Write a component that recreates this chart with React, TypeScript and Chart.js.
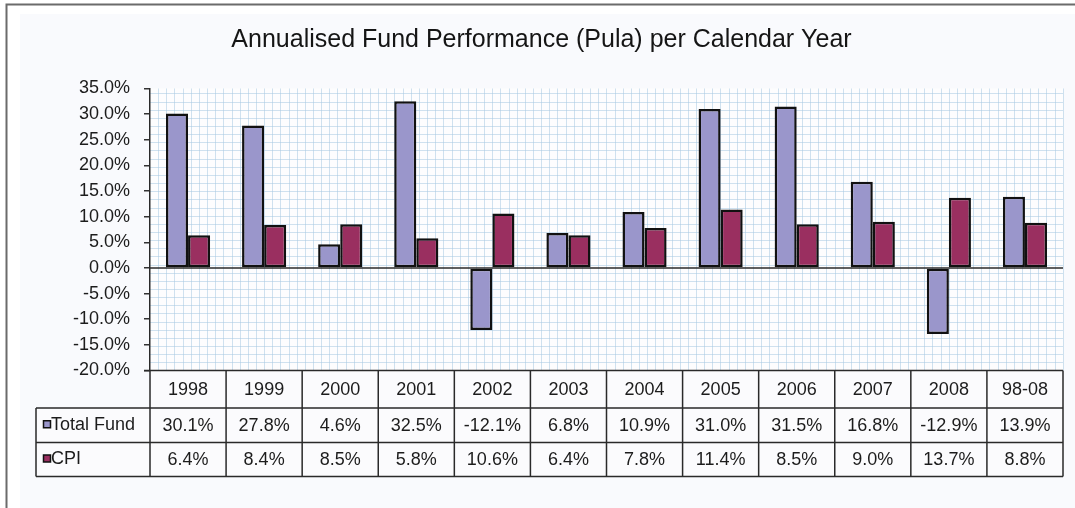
import React, { useEffect, useRef } from "react";
import { Chart, registerables } from "chart.js";

Chart.register(...registerables);

const TITLE = "Annualised Fund Performance (Pula) per Calendar Year";
const CATEGORIES = ["1998", "1999", "2000", "2001", "2002", "2003", "2004", "2005", "2006", "2007", "2008", "98-08"];
const SERIES_NAMES = ["Total Fund", "CPI"];
const TOTAL_FUND = [30.1, 27.8, 4.6, 32.5, -12.1, 6.8, 10.9, 31.0, 31.5, 16.8, -12.9, 13.9];
const CPI = [6.4, 8.4, 8.5, 5.8, 10.6, 6.4, 7.8, 11.4, 8.5, 9.0, 13.7, 8.8];
const Y_MIN = -20;
const Y_MAX = 35;
const Y_STEP = 5;

const FONT = "'Liberation Sans', Arial, sans-serif";
const COLORS = ["#9a96cb", "#9a2f60"];
const TEXT = "#1c1c1c";
const fmt = (v: number) => v.toFixed(1) + "%";

const framePlugin = {
  id: "frame",
  beforeDraw(chart: any) {
    const { ctx, chartArea: a, width, height } = chart;
    ctx.save();
    ctx.fillStyle = "#ffffff";
    ctx.fillRect(0, 0, width, height);
    ctx.fillStyle = "#f9fafd";
    ctx.fillRect(20, 14, width - 20, height - 14);
    ctx.strokeStyle = "#6b6b6b";
    ctx.lineWidth = 2;
    ctx.beginPath();
    ctx.moveTo(6.5, height);
    ctx.lineTo(6.5, 4.5);
    ctx.lineTo(width, 4.5);
    ctx.stroke();
    // plot area with fine grid pattern
    ctx.fillStyle = "#fdfdfe";
    ctx.fillRect(a.left, a.top, a.width, a.height);
    ctx.strokeStyle = "rgba(170,202,226,0.55)";
    ctx.lineWidth = 1;
    ctx.beginPath();
    const step = 8.15;
    for (let x = a.left + step; x < a.right; x += step) {
      const px = Math.round(x) + 0.5;
      ctx.moveTo(px, a.top);
      ctx.lineTo(px, a.bottom);
    }
    for (let y = a.bottom - step; y >= a.top - 0.5; y -= step) {
      const py = Math.round(y) + 0.5;
      ctx.moveTo(a.left, py);
      ctx.lineTo(a.right, py);
    }
    ctx.stroke();
    ctx.restore();
  },
  afterDatasetsDraw(chart: any) {
    const { ctx, chartArea: a } = chart;
    const y0 = chart.scales.y.getPixelForValue(0);
    ctx.save();
    ctx.strokeStyle = "#2a2a2a";
    ctx.lineWidth = 1.5;
    ctx.beginPath();
    ctx.moveTo(a.left, y0);
    ctx.lineTo(a.right, y0);
    ctx.stroke();
    ctx.restore();
  },
  afterDraw(chart: any) {
    const { ctx, chartArea: a } = chart;
    const xs = chart.scales.x;
    const n = CATEGORIES.length;
    const colW = a.width / n;
    const rows = [a.bottom, a.bottom + 37.5, a.bottom + 72, a.bottom + 106];
    const legendLeft = 36;
    ctx.save();
    ctx.fillStyle = "#fbfbfd";
    ctx.fillRect(a.left, rows[0], a.width, rows[3] - rows[0]);
    ctx.fillRect(legendLeft, rows[1], a.left - legendLeft, rows[3] - rows[1]);
    ctx.strokeStyle = "#2a2a2a";
    ctx.lineWidth = 1.5;
    ctx.beginPath();
    ctx.moveTo(a.left - 6, rows[0]);
    ctx.lineTo(a.right, rows[0]);
    for (let r = 1; r < 4; r++) {
      ctx.moveTo(legendLeft, rows[r]);
      ctx.lineTo(a.right, rows[r]);
    }
    for (let i = 0; i <= n; i++) {
      const x = a.left + i * colW;
      ctx.moveTo(x, rows[0]);
      ctx.lineTo(x, rows[3]);
    }
    ctx.moveTo(legendLeft, rows[1]);
    ctx.lineTo(legendLeft, rows[3]);
    ctx.stroke();

    ctx.fillStyle = TEXT;
    ctx.font = `18px ${FONT}`;
    ctx.textAlign = "center";
    ctx.textBaseline = "middle";
    const series = [TOTAL_FUND, CPI];
    for (let i = 0; i < n; i++) {
      const cx = xs.getPixelForValue(i);
      ctx.fillText(CATEGORIES[i], cx, (rows[0] + rows[1]) / 2 + 1);
      for (let s = 0; s < series.length; s++) {
        ctx.fillText(fmt(series[s][i]), cx, (rows[s + 1] + rows[s + 2]) / 2 + 1);
      }
    }
    ctx.textAlign = "left";
    for (let s = 0; s < SERIES_NAMES.length; s++) {
      const cy = (rows[s + 1] + rows[s + 2]) / 2;
      ctx.fillStyle = COLORS[s];
      ctx.fillRect(43.5, cy - 4.5, 7, 7);
      ctx.strokeStyle = "#111";
      ctx.lineWidth = 1.5;
      ctx.strokeRect(43.5, cy - 4.5, 7, 7);
      ctx.fillStyle = TEXT;
      ctx.fillText(SERIES_NAMES[s], 51, cy);
    }
    ctx.restore();
  },
};

export default function App() {
  const ref = useRef<HTMLCanvasElement>(null);
  useEffect(() => {
    const chart = new Chart(ref.current!, {
      type: "bar",
      data: {
        labels: CATEGORIES,
        datasets: [
          {
            label: SERIES_NAMES[0],
            data: TOTAL_FUND,
            backgroundColor: COLORS[0],
            borderColor: "#111",
            borderWidth: 2.5,
            borderSkipped: false,
          },
          {
            label: SERIES_NAMES[1],
            data: CPI,
            backgroundColor: COLORS[1],
            borderColor: "#111",
            borderWidth: 2.5,
            borderSkipped: false,
          },
        ],
      },
      options: {
        responsive: false,
        devicePixelRatio: 1,
        animation: false,
        datasets: { bar: { categoryPercentage: 0.58, barPercentage: 1 } },
        layout: { padding: { left: 20, right: 12, top: 0, bottom: 137.5 } },
        scales: {
          x: { display: false, offset: true },
          y: {
            min: Y_MIN,
            max: Y_MAX,
            ticks: {
              stepSize: Y_STEP,
              callback: (v: any) => fmt(Number(v)),
              color: TEXT,
              font: { size: 18, family: FONT },
              padding: 14,
            },
            grid: { drawOnChartArea: false, drawTicks: true, tickLength: 6, color: "#333", lineWidth: 1.5 },
            border: { display: true, color: "#2a2a2a", width: 1.5 },
            afterFit: (s: any) => {
              s.width = 130;
            },
          },
        },
        plugins: {
          legend: { display: false },
          tooltip: { enabled: false },
          title: {
            display: true,
            text: TITLE,
            color: "#151515",
            font: { size: 25, family: FONT, weight: "normal" },
            padding: { top: 25, bottom: 33.5 },
          },
        },
      },
      plugins: [framePlugin],
    } as any);
    return () => chart.destroy();
  }, []);
  return (
    <div style={{ position: "fixed", left: 0, top: 0, width: 1075, height: 508 }}>
      <canvas ref={ref} width={1075} height={508} style={{ display: "block", width: 1075, height: 508 }} />
    </div>
  );
}
